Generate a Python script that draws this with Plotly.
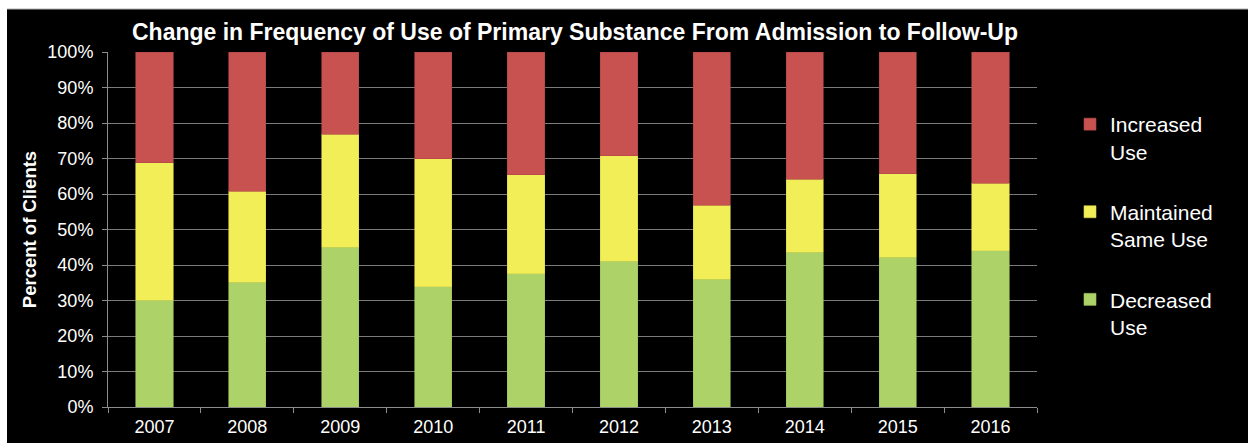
import plotly.graph_objects as go

# Survey years
years = ["2007", "2008", "2009", "2010", "2011", "2012", "2013", "2014", "2015", "2016"]

# Share of clients (%) by change in frequency of use
decreased = [30.1, 35.1, 45.0, 33.9, 37.5, 41.1, 36.0, 43.6, 42.2, 44.0]
maintained = [38.7, 25.7, 31.9, 36.0, 27.9, 29.7, 20.9, 20.6, 23.5, 19.1]
increased = [31.2, 39.2, 23.1, 30.1, 34.6, 29.2, 43.1, 35.8, 34.3, 36.9]

y_ticks = list(range(0, 101, 10))
y_tick_text = [f"{v}%" for v in y_ticks]

W, H = 1248, 443
L, R, T, B = 108, 211, 52, 36
pw, ph = W - L - R, H - T - B


def px_x(p):
    return (p - L) / pw


def px_y(p):
    return (H - B - p) / ph


# (legend label, values, fill, edge, legend rank)
series = [
    ("Decreased<br>Use", decreased, "#ADD368", "#9DBF5E", 3),
    ("Maintained<br>Same Use", maintained, "#F2EE58", "#D9D54E", 2),
    ("Increased<br>Use", increased, "#C75250", "#B04846", 1),
]

fig = go.Figure()
for i, (name, vals, col, edge, rank) in enumerate(series):
    fig.add_trace(go.Bar(
        x=years, y=vals, name=name,
        legendgroup=f"g{i}", legendrank=rank,
        marker=dict(color=col, line=dict(color=edge, width=0.6)),
        hoverinfo="skip",
    ))

fig.update_layout(
    width=W, height=H,
    barmode="stack", bargap=0.6,
    paper_bgcolor="white", plot_bgcolor="#404040",
    margin=dict(l=L, r=R, t=T, b=B, autoexpand=False),
    font=dict(family="Liberation Sans, Arial, sans-serif", color="white", size=18),
    title=dict(
        text="<b>Change in Frequency of Use of Primary Substance From Admission to Follow-Up</b>",
        x=px_x(575), xref="paper", xanchor="center",
        y=1 - 32 / H, yanchor="middle",
        font=dict(size=23, color="white"),
    ),
    xaxis=dict(
        type="category", range=[-0.5, 9.5],
        showgrid=False, showline=True, linecolor="#8c8c8c", linewidth=1,
        ticks="outside", tickson="boundaries", ticklen=5, tickcolor="#8c8c8c",
        tickfont=dict(size=18, color="white"), ticklabelstandoff=3,
    ),
    yaxis=dict(
        range=[0, 100], tickvals=y_ticks, ticktext=y_tick_text,
        showgrid=True, gridcolor="#7a7a7a", gridwidth=1,
        showline=True, linecolor="#8c8c8c", linewidth=1,
        ticks="outside", ticklen=5, tickcolor="#8c8c8c",
        tickfont=dict(size=18, color="white"), ticklabelstandoff=5,
        zeroline=False,
        title=dict(text="<b>Percent of Clients</b>", font=dict(size=18.5, color="white"), standoff=5),
    ),
    legend=dict(
        traceorder="grouped", tracegroupgap=30, valign="top",
        x=px_x(1070), xanchor="left", y=px_y(104), yanchor="top",
        bgcolor="rgba(0,0,0,0)", font=dict(size=21, color="white"),
    ),
    shapes=[
        # black chart area framed by a thin white margin
        dict(type="rect", xref="paper", yref="paper",
             x0=px_x(7), x1=px_x(W + 5), y0=px_y(H + 5), y1=px_y(9),
             fillcolor="black", line=dict(width=0), layer="below"),
        dict(type="line", xref="paper", yref="paper",
             x0=px_x(7), x1=px_x(W + 5), y0=px_y(9), y1=px_y(9),
             line=dict(color="#b0b0b0", width=1), layer="below"),
    ],
)

fig.write_html("out.html")
